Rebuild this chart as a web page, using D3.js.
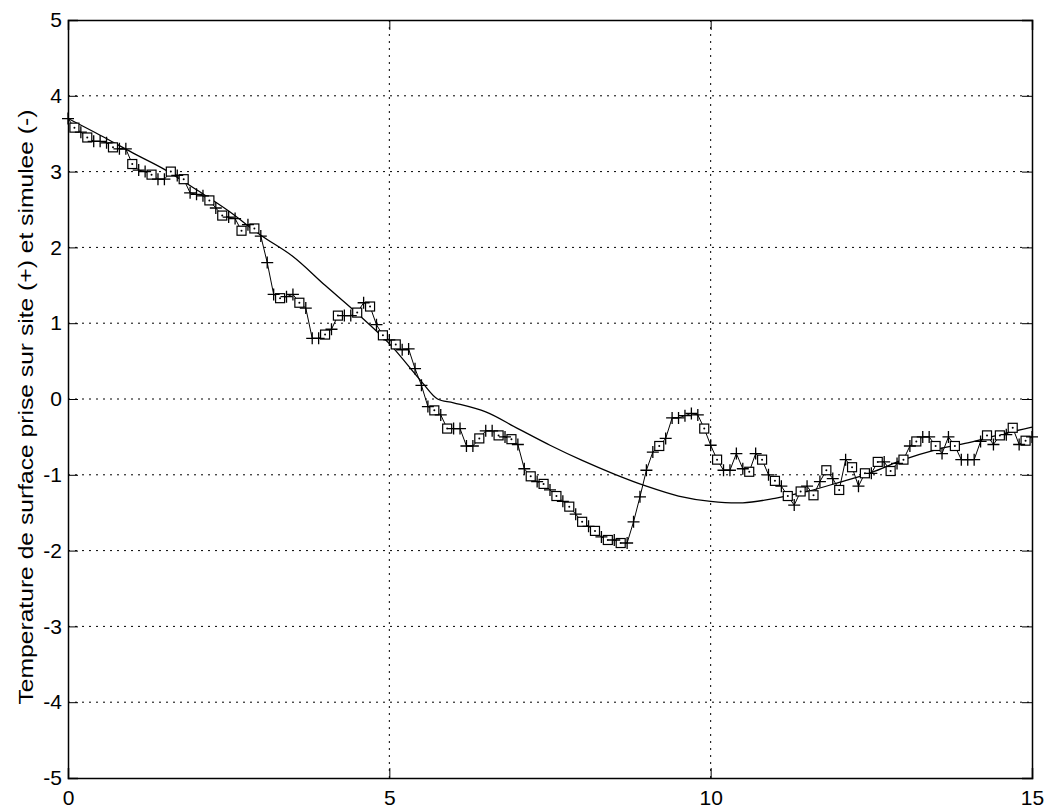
<!DOCTYPE html>
<html>
<head>
<meta charset="utf-8">
<script src="https://cdn.jsdelivr.net/npm/d3@7"></script>
<style>
  body { margin: 0; background: #fff; }
  text { font-family: "Liberation Sans", Arial, sans-serif; fill: #000; }
</style>
</head>
<body>
<svg width="1049" height="811"></svg>
<script>
// measured surface temperature, one reading every 0.1 (x from 0 to 15)
var measStep = 0.1;
var measured = [
  3.70, 3.58, 3.52, 3.45, 3.40, 3.40, 3.38, 3.32, 3.30, 3.30,
  3.10, 3.02, 3.00, 2.96, 2.90, 2.90, 3.00, 2.95, 2.90, 2.72,
  2.70, 2.68, 2.62, 2.52, 2.42, 2.40, 2.38, 2.22, 2.30, 2.25,
  2.15, 1.80, 1.38, 1.33, 1.35, 1.38, 1.27, 1.20, 0.80, 0.80,
  0.85, 0.92, 1.10, 1.10, 1.10, 1.14, 1.27, 1.22, 0.98, 0.84,
  0.78, 0.72, 0.65, 0.66, 0.40, 0.18, -0.10, -0.15, -0.21, -0.39,
  -0.39, -0.39, -0.62, -0.62, -0.52, -0.42, -0.42, -0.48, -0.50, -0.53,
  -0.60, -0.92, -1.02, -1.09, -1.12, -1.20, -1.28, -1.35, -1.42, -1.52,
  -1.62, -1.68, -1.74, -1.82, -1.86, -1.86, -1.90, -1.90, -1.62, -1.29,
  -0.94, -0.70, -0.62, -0.52, -0.25, -0.25, -0.22, -0.19, -0.21, -0.39,
  -0.61, -0.80, -0.94, -0.94, -0.72, -0.92, -0.96, -0.72, -0.80, -1.00,
  -1.08, -1.15, -1.28, -1.40, -1.22, -1.15, -1.27, -1.09, -0.94, -1.05,
  -1.20, -0.80, -0.90, -1.15, -0.98, -0.98, -0.83, -0.83, -0.95, -0.85,
  -0.80, -0.62, -0.56, -0.50, -0.50, -0.62, -0.72, -0.50, -0.62, -0.80,
  -0.80, -0.80, -0.56, -0.48, -0.60, -0.48, -0.47, -0.38, -0.60, -0.55,
  -0.50
];

// simulated curve
var simX = [0, 0.5, 1, 1.5, 2, 2.5, 3, 3.5, 4, 4.5, 5, 5.5, 5.75, 6, 6.5, 7, 7.5,
            8, 8.5, 9, 9.5, 10, 10.5, 11, 11.5, 12, 12.5, 13, 13.5, 14, 14.5, 15];
var simY = [3.70, 3.48, 3.25, 3.03, 2.76, 2.48, 2.16, 1.88, 1.50, 1.13, 0.73, 0.23, 0.00,
            -0.05, -0.17, -0.39, -0.61, -0.81, -0.99, -1.15, -1.28, -1.35, -1.37, -1.31,
            -1.22, -1.10, -0.97, -0.80, -0.67, -0.58, -0.47, -0.37];

var xTicks = [0, 5, 10, 15];
var yTicks = [-5, -4, -3, -2, -1, 0, 1, 2, 3, 4, 5];
var yLabel = "Temperature de surface prise sur site (+) et simulee (-)";

var svg = d3.select("svg"),
    margin = {top: 20, right: 17, bottom: 33, left: 68},
    width = +svg.attr("width") - margin.left - margin.right,
    height = +svg.attr("height") - margin.top - margin.bottom;

var x = d3.scaleLinear().domain([0, 15]).range([0, width]);
var y = d3.scaleLinear().domain([-5, 5]).range([height, 0]);

var g = svg.append("g")
    .attr("transform", "translate(" + margin.left + "," + margin.top + ")");

// dotted grid
g.selectAll(".vgrid")
  .data(xTicks.slice(1, -1))
  .enter().append("line")
  .attr("x1", d => x(d)).attr("x2", d => x(d))
  .attr("y1", 0).attr("y2", height)
  .attr("stroke", "#000").attr("stroke-width", 1)
  .attr("stroke-dasharray", "2,5");
g.selectAll(".hgrid")
  .data(yTicks.slice(1, -1))
  .enter().append("line")
  .attr("x1", 0).attr("x2", width)
  .attr("y1", d => y(d)).attr("y2", d => y(d))
  .attr("stroke", "#000").attr("stroke-width", 1)
  .attr("stroke-dasharray", "2,5");

// axes, ticks inside (matlab style)
var tick = 10;
var fmt = d => String(d);
g.append("g")
  .attr("class", "axisLabel")
  .attr("transform", "translate(0," + height + ")")
  .call(d3.axisBottom(x).tickValues(xTicks).tickSize(-tick).tickPadding(12).tickFormat(fmt));
g.append("g")
  .call(d3.axisTop(x).tickValues(xTicks).tickSize(-tick).tickFormat(""));
g.append("g")
  .attr("class", "axisLabel")
  .call(d3.axisLeft(y).tickValues(yTicks).tickSize(-tick).tickPadding(6).tickFormat(fmt));
g.append("g")
  .attr("transform", "translate(" + width + ",0)")
  .call(d3.axisRight(y).tickValues(yTicks).tickSize(-tick).tickFormat(""));

g.selectAll(".domain").attr("stroke", "#000").attr("stroke-width", 1.5);
g.selectAll(".tick line").attr("stroke", "#000");
g.selectAll(".axisLabel text")
  .style("font-size", "21px")
  .style("font-family", "Liberation Sans, Arial, sans-serif");

svg.append("text")
  .attr("transform", "translate(" + 33 + "," + 407 + ") rotate(-90)")
  .style("text-anchor", "middle")
  .style("font-size", "21px")
  .attr("textLength", 595)
  .attr("lengthAdjust", "spacingAndGlyphs")
  .text(yLabel);

// gentle slopes get a square marker, alternating with a plus
var pts = [];
measured.forEach((v, i) => {
  var d = i > 0 ? Math.abs(v - measured[i - 1]) : 0;
  var prevSq = i > 0 && pts[i - 1].sq;
  pts.push({t: i * measStep, v: v, sq: d > 0.03 && d < 0.2 && !prevSq});
});

// simulated line
g.append("path")
  .datum(simX.map((t, i) => [t, simY[i]]))
  .attr("fill", "none")
  .attr("stroke", "#000")
  .attr("stroke-width", 1.3)
  .attr("d", d3.line().x(d => x(d[0])).y(d => y(d[1])).curve(d3.curveCatmullRom.alpha(0.5)));

// measured line
g.append("path")
  .datum(pts)
  .attr("fill", "none")
  .attr("stroke", "#000")
  .attr("stroke-width", 1)
  .attr("d", d3.line().x(d => x(d.t)).y(d => y(d.v)));

g.selectAll(".sq")
  .data(pts.filter(d => d.sq))
  .enter().append("rect")
  .attr("x", d => x(d.t) - 4.5)
  .attr("y", d => y(d.v) - 4.5)
  .attr("width", 9).attr("height", 9)
  .attr("fill", "#fff").attr("stroke", "#000").attr("stroke-width", 1.2);
g.selectAll(".dot")
  .data(pts.filter(d => d.sq))
  .enter().append("circle")
  .attr("cx", d => x(d.t)).attr("cy", d => y(d.v))
  .attr("r", 1).attr("fill", "#000");

g.selectAll(".plus")
  .data(pts.filter(d => !d.sq))
  .enter().append("path")
  .attr("stroke", "#000").attr("stroke-width", 1.3)
  .attr("d", d => {
    var cx = x(d.t), cy = y(d.v), r = 6;
    return "M" + (cx - r) + "," + cy + "H" + (cx + r) + "M" + cx + "," + (cy - r) + "V" + (cy + r);
  });
</script>
</body>
</html>
